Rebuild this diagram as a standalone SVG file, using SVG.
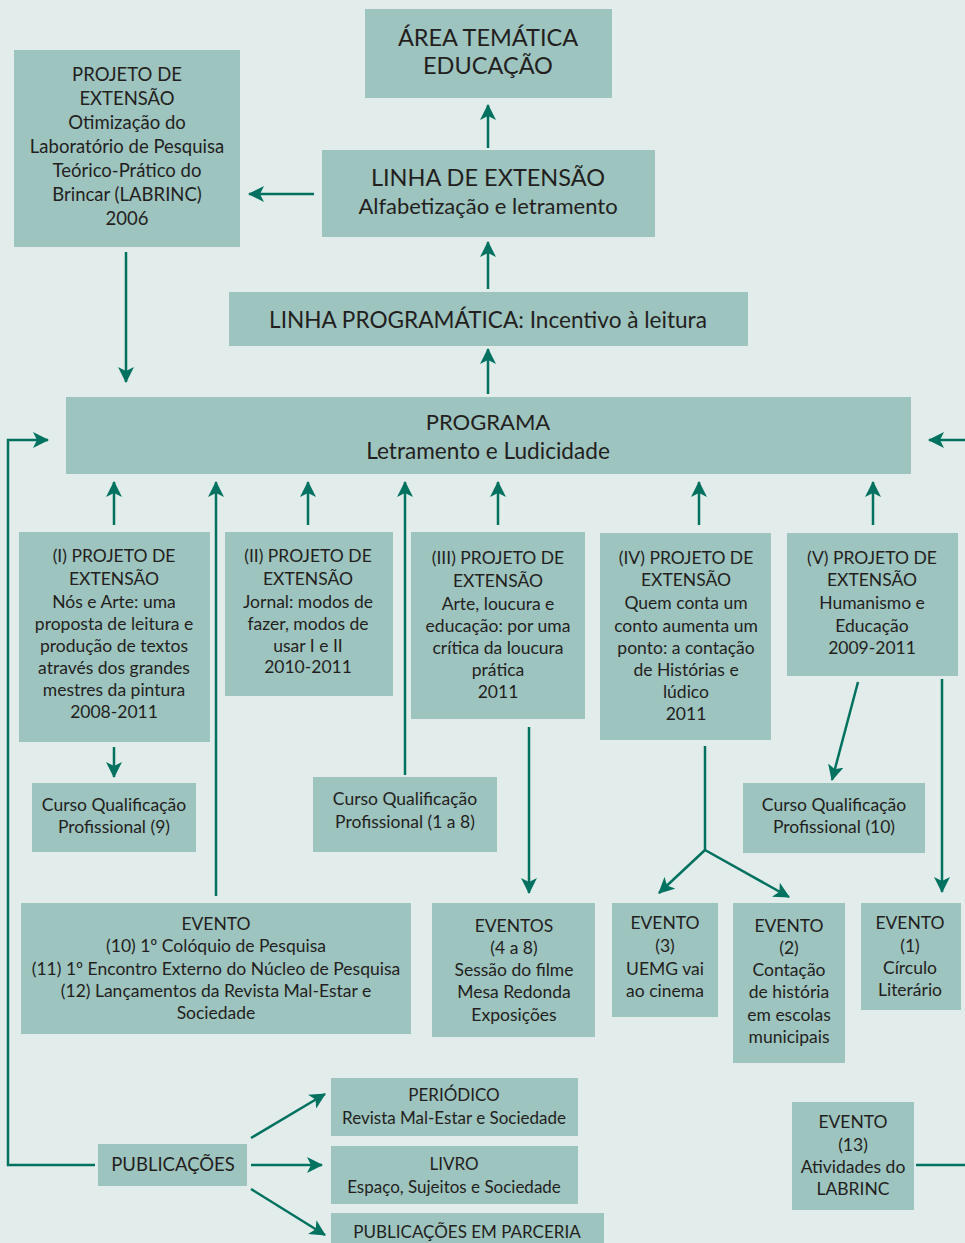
<svg xmlns="http://www.w3.org/2000/svg" width="965" height="1243" viewBox="0 0 965 1243">
<defs>
<style>
.b{fill:#9ec4bf}
.t{font-family:Lato,"Noto Sans","Liberation Sans",sans-serif;fill:#231f20;text-anchor:middle}
.s23{font-size:23.5px}.s22{font-size:22px}.s225{font-size:22.6px}.s18{font-size:18.5px}.s17{font-size:17.5px}.s16{font-size:17px}
.c{stroke:#00725f;stroke-width:2.5;fill:none}
.a{marker-end:url(#ah)}
</style>
<marker id="ah" markerUnits="userSpaceOnUse" markerWidth="16" markerHeight="16" viewBox="0 0 16 16" refX="15" refY="8" orient="auto">
<path d="M0,0 L16,8 L0,16 L4,8 Z" fill="#00725f"/>
</marker>
</defs>
<rect width="965" height="1243" fill="#e2ecea"/>

<g id="connectors">
<line class="c a" x1="488" y1="148" x2="488" y2="105"/>
<line class="c a" x1="488" y1="289" x2="488" y2="242"/>
<line class="c a" x1="488" y1="394" x2="488" y2="349"/>
<line class="c a" x1="314" y1="194" x2="249" y2="194"/>
<line class="c a" x1="126" y1="252" x2="126" y2="382"/>
<line class="c a" x1="114" y1="525" x2="114" y2="482"/>
<line class="c a" x1="216" y1="896" x2="216" y2="482"/>
<line class="c a" x1="308" y1="525" x2="308" y2="482"/>
<line class="c a" x1="405" y1="775" x2="405" y2="482"/>
<line class="c a" x1="498" y1="525" x2="498" y2="482"/>
<line class="c a" x1="699" y1="525" x2="699" y2="482"/>
<line class="c a" x1="873" y1="525" x2="873" y2="482"/>
<line class="c a" x1="114" y1="747" x2="114" y2="777"/>
<line class="c a" x1="529" y1="727" x2="529" y2="893"/>
<polyline class="c" points="705,746 705,850"/>
<line class="c a" x1="705" y1="850" x2="659" y2="893"/>
<line class="c a" x1="705" y1="850" x2="789" y2="897"/>
<line class="c a" x1="858" y1="682" x2="832" y2="780"/>
<line class="c a" x1="942" y1="679" x2="942" y2="892"/>
<polyline class="c a" points="95,1165 8,1165 8,440 48,440"/>
<polyline class="c" points="916,1165 965,1165"/>
<line class="c a" x1="967" y1="440" x2="929" y2="440"/>
<line class="c a" x1="251" y1="1138" x2="325" y2="1094"/>
<line class="c a" x1="251" y1="1165" x2="322" y2="1165"/>
<line class="c a" x1="251" y1="1189" x2="325" y2="1235"/>
</g>

<g id="area">
<rect class="b" x="365" y="9" width="247" height="89"/>
<text class="t s23" x="488" y="46">ÁREA TEMÁTICA</text>
<text class="t s23" x="488" y="74">EDUCAÇÃO</text>
</g>
<g id="linha-extensao">
<rect class="b" x="322" y="150" width="333" height="87"/>
<text class="t s23" x="488" y="186">LINHA DE EXTENSÃO</text>
<text class="t s22" x="488" y="214">Alfabetização e letramento</text>
</g>
<g id="labrinc">
<rect class="b" x="14" y="50" width="226" height="197"/>
<text class="t s18" x="127" y="81">PROJETO DE</text>
<text class="t s18" x="127" y="105">EXTENSÃO</text>
<text class="t s18" x="127" y="129">Otimização do</text>
<text class="t s18" x="127" y="153">Laboratório de Pesquisa</text>
<text class="t s18" x="127" y="177">Teórico-Prático do</text>
<text class="t s18" x="127" y="201">Brincar (LABRINC)</text>
<text class="t s18" x="127" y="225">2006</text>
</g>
<g id="linha-programatica">
<rect class="b" x="229" y="292" width="519" height="54"/>
<text class="t s225" x="488" y="328">LINHA PROGRAMÁTICA: Incentivo à leitura</text>
</g>
<g id="programa">
<rect class="b" x="66" y="397" width="845" height="77"/>
<text class="t s22" x="488" y="430">PROGRAMA</text>
<text class="t s225" x="488" y="459">Letramento e Ludicidade</text>
</g>
<g id="projeto-1">
<rect class="b" x="19" y="532" width="191" height="210"/>
<text class="t s17" x="114" y="562">(I) PROJETO DE</text>
<text class="t s17" x="114" y="585">EXTENSÃO</text>
<text class="t s17" x="114" y="608">Nós e Arte: uma</text>
<text class="t s17" x="114" y="630">proposta de leitura e</text>
<text class="t s17" x="114" y="652">produção de textos</text>
<text class="t s17" x="114" y="674">através dos grandes</text>
<text class="t s17" x="114" y="696">mestres da pintura</text>
<text class="t s17" x="114" y="718">2008-2011</text>
</g>
<g id="projeto-2">
<rect class="b" x="225" y="532" width="168" height="164"/>
<text class="t s17" x="308" y="562">(II) PROJETO DE</text>
<text class="t s17" x="308" y="585">EXTENSÃO</text>
<text class="t s17" x="308" y="608">Jornal: modos de</text>
<text class="t s17" x="308" y="630">fazer, modos de</text>
<text class="t s17" x="308" y="652">usar I e II</text>
<text class="t s17" x="308" y="673">2010-2011</text>
</g>
<g id="projeto-3">
<rect class="b" x="411" y="532" width="174" height="187"/>
<text class="t s17" x="498" y="564">(III) PROJETO DE</text>
<text class="t s17" x="498" y="587">EXTENSÃO</text>
<text class="t s17" x="498" y="610">Arte, loucura e</text>
<text class="t s17" x="498" y="632">educação: por uma</text>
<text class="t s17" x="498" y="654">crítica da loucura</text>
<text class="t s17" x="498" y="676">prática</text>
<text class="t s17" x="498" y="698">2011</text>
</g>
<g id="projeto-4">
<rect class="b" x="600" y="533" width="171" height="207"/>
<text class="t s17" x="686" y="564">(IV) PROJETO DE</text>
<text class="t s17" x="686" y="586">EXTENSÃO</text>
<text class="t s17" x="686" y="609">Quem conta um</text>
<text class="t s17" x="686" y="632">conto aumenta um</text>
<text class="t s17" x="686" y="654">ponto: a contação</text>
<text class="t s17" x="686" y="676">de Histórias e</text>
<text class="t s17" x="686" y="698">lúdico</text>
<text class="t s17" x="686" y="720">2011</text>
</g>
<g id="projeto-5">
<rect class="b" x="787" y="533" width="171" height="143"/>
<text class="t s17" x="872" y="564">(V) PROJETO DE</text>
<text class="t s17" x="872" y="586">EXTENSÃO</text>
<text class="t s17" x="872" y="609">Humanismo e</text>
<text class="t s17" x="872" y="632">Educação</text>
<text class="t s17" x="872" y="654">2009-2011</text>
</g>
<g id="curso-9">
<rect class="b" x="32" y="783" width="164" height="69"/>
<text class="t s17" x="114" y="811">Curso Qualificação</text>
<text class="t s17" x="114" y="833">Profissional (9)</text>
</g>
<g id="curso-1-8">
<rect class="b" x="313" y="777" width="184" height="75"/>
<text class="t s17" x="405" y="805">Curso Qualificação</text>
<text class="t s17" x="405" y="828">Profissional (1 a 8)</text>
</g>
<g id="curso-10">
<rect class="b" x="743" y="783" width="182" height="70"/>
<text class="t s17" x="834" y="811">Curso Qualificação</text>
<text class="t s17" x="834" y="833">Profissional (10)</text>
</g>
<g id="evento-10-12">
<rect class="b" x="21" y="903" width="390" height="131"/>
<text class="t s17" x="216" y="930">EVENTO</text>
<text class="t s17" x="216" y="952">(10) 1º Colóquio de Pesquisa</text>
<text class="t s17" x="216" y="975">(11) 1º Encontro Externo  do Núcleo de Pesquisa</text>
<text class="t s17" x="216" y="997">(12) Lançamentos da Revista Mal-Estar e</text>
<text class="t s17" x="216" y="1019">Sociedade</text>
</g>
<g id="eventos-4-8">
<rect class="b" x="432" y="903" width="163" height="134"/>
<text class="t s17" x="514" y="932">EVENTOS</text>
<text class="t s17" x="514" y="954">(4 a 8)</text>
<text class="t s17" x="514" y="976">Sessão do filme</text>
<text class="t s17" x="514" y="998">Mesa Redonda</text>
<text class="t s17" x="514" y="1021">Exposições</text>
</g>
<g id="evento-3">
<rect class="b" x="612" y="903" width="106" height="114"/>
<text class="t s17" x="665" y="929">EVENTO</text>
<text class="t s17" x="665" y="952">(3)</text>
<text class="t s17" x="665" y="975">UEMG vai</text>
<text class="t s17" x="665" y="997">ao cinema</text>
</g>
<g id="evento-2">
<rect class="b" x="733" y="903" width="112" height="160"/>
<text class="t s17" x="789" y="932">EVENTO</text>
<text class="t s17" x="789" y="954">(2)</text>
<text class="t s17" x="789" y="976">Contação</text>
<text class="t s17" x="789" y="998">de história</text>
<text class="t s17" x="789" y="1021">em escolas</text>
<text class="t s17" x="789" y="1043">municipais</text>
</g>
<g id="evento-1">
<rect class="b" x="861" y="903" width="100" height="107"/>
<text class="t s17" x="910" y="929">EVENTO</text>
<text class="t s17" x="910" y="952">(1)</text>
<text class="t s17" x="910" y="974">Círculo</text>
<text class="t s17" x="910" y="996">Literário</text>
</g>
<g id="publicacoes">
<rect class="b" x="98" y="1144" width="149" height="42"/>
<text class="t s18" x="173" y="1171">PUBLICAÇÕES</text>
</g>
<g id="periodico">
<rect class="b" x="331" y="1078" width="247" height="58"/>
<text class="t s16" x="454" y="1101">PERIÓDICO</text>
<text class="t s16" x="454" y="1124">Revista Mal-Estar e Sociedade</text>
</g>
<g id="livro">
<rect class="b" x="331" y="1146" width="247" height="58"/>
<text class="t s16" x="454" y="1170">LIVRO</text>
<text class="t s16" x="454" y="1193">Espaço, Sujeitos e Sociedade</text>
</g>
<g id="parceria">
<rect class="b" x="331" y="1213" width="273" height="35"/>
<text class="t s16" x="467" y="1238">PUBLICAÇÕES EM PARCERIA</text>
</g>
<g id="evento-13">
<rect class="b" x="792" y="1102" width="122" height="108"/>
<text class="t s17" x="853" y="1128">EVENTO</text>
<text class="t s17" x="853" y="1151">(13)</text>
<text class="t s17" x="853" y="1173">Atividades do</text>
<text class="t s17" x="853" y="1195">LABRINC</text>
</g>
</svg>
